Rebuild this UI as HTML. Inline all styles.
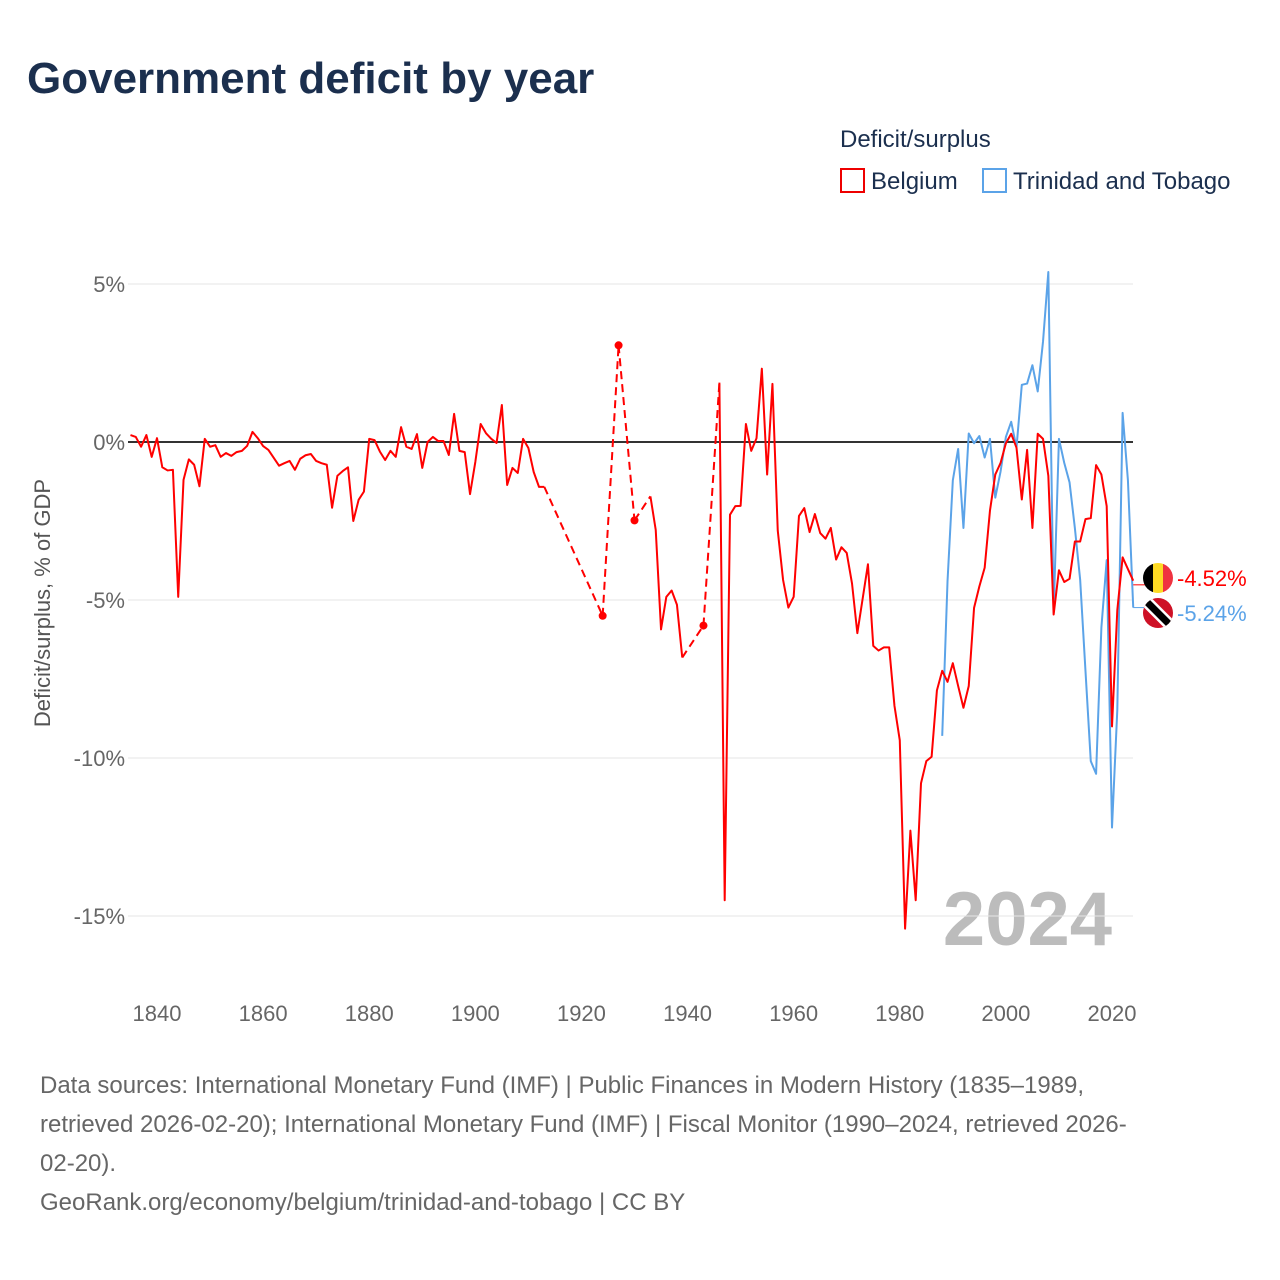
<!DOCTYPE html>
<html><head><meta charset="utf-8">
<style>
body{margin:0;background:#fff;font-family:"Liberation Sans",sans-serif;}
#wrap{position:relative;width:1280px;height:1280px;overflow:hidden;}
</style></head>
<body><div id="wrap">
<svg id="chart" width="1280" height="1280" xmlns="http://www.w3.org/2000/svg">
<text x="27" y="93" font-size="44" font-weight="bold" fill="#1b2f4e">Government deficit by year</text>
<text x="840" y="147" font-size="24" fill="#1b2f4e">Deficit/surplus</text>
<g><rect x="841" y="169" width="23" height="23" fill="#fff" stroke="#e00" stroke-width="2"/><text x="871" y="189" font-size="24" fill="#1b2f4e">Belgium</text></g>
<g><rect x="983" y="169" width="23" height="23" fill="#fff" stroke="#5ba3e8" stroke-width="2"/><text x="1013" y="189" font-size="24" fill="#1b2f4e">Trinidad and Tobago</text></g>
<text transform="translate(50,603) rotate(-90)" text-anchor="middle" font-size="22" fill="#555">Deficit/surplus, % of GDP</text>
<text x="1112" y="945" text-anchor="end" font-size="76" font-weight="bold" fill="#bcbcbc">2024</text>
<g id="grid"></g><g id="series"></g><g id="labels"></g>
<g font-size="24" fill="#666">
<text x="40" y="1093">Data sources: International Monetary Fund (IMF) | Public Finances in Modern History (1835–1989,</text>
<text x="40" y="1132">retrieved 2026-02-20); International Monetary Fund (IMF) | Fiscal Monitor (1990–2024, retrieved 2026-</text>
<text x="40" y="1171">02-20).</text>
<text x="40" y="1210">GeoRank.org/economy/belgium/trinidad-and-tobago | CC BY</text>
</g>
</svg></div>
<script>
const belgiumYears = [];
for (let y = 1835; y <= 2024; y++) belgiumYears.push(y);
const belgiumValues = [0.22,0.16,-0.15,0.22,-0.47,0.12,-0.8,-0.9,-0.88,-4.9,-1.2,-0.55,-0.72,-1.4,0.1,-0.15,-0.1,-0.47,-0.35,-0.44,-0.32,-0.28,-0.12,0.32,0.12,-0.13,-0.25,-0.5,-0.75,-0.67,-0.6,-0.88,-0.53,-0.42,-0.38,-0.6,-0.67,-0.72,-2.08,-1.07,-0.92,-0.8,-2.5,-1.83,-1.57,0.1,0.06,-0.3,-0.57,-0.28,-0.47,0.47,-0.15,-0.22,0.25,-0.82,0,0.16,0.03,0.03,-0.41,0.89,-0.28,-0.32,-1.65,-0.63,0.57,0.28,0.1,-0.03,1.17,-1.36,-0.82,-0.98,0.1,-0.19,-0.95,-1.42,-1.42,
null,null,null,null,null,null,null,null,null,null,-5.5,null,null,3.06,null,null,-2.48,null,null,-1.72,-2.78,-5.93,-4.9,-4.7,-5.15,-6.82,null,null,null,-5.81,null,null,1.88,-14.5,-2.3,-2.03,-2.02,0.57,-0.28,0.12,2.32,-1.03,1.84,-2.8,-4.36,-5.24,-4.9,-2.34,-2.09,-2.85,-2.28,-2.88,-3.06,-2.72,-3.72,-3.33,-3.51,-4.48,-6.05,-4.96,-3.87,-6.45,-6.6,-6.5,-6.5,-8.35,-9.44,-15.4,-12.3,-14.5,-10.8,-10.1,-9.96,-7.86,-7.24,-7.59,-7.0,-7.72,-8.41,-7.72,-5.25,-4.57,-3.98,-2.17,-1.03,-0.66,-0.04,0.26,-0.18,-1.82,-0.25,-2.72,0.26,0.1,-1.07,-5.46,-4.06,-4.43,-4.33,-3.15,-3.15,-2.44,-2.41,-0.73,-1.03,-2.03,-9.0,-5.32,-3.65,-4.02,-4.39,-4.52];
const ttYears = [];
for (let y = 1988; y <= 2024; y++) ttYears.push(y);
const ttValues = [-9.3,-4.4,-1.21,-0.22,-2.72,0.27,-0.04,0.19,-0.49,0.1,-1.76,-0.93,0.16,0.64,-0.18,1.81,1.85,2.43,1.6,3.18,5.38,-5.39,0.1,-0.66,-1.28,-2.72,-4.36,-7.24,-10.1,-10.5,-5.87,-3.74,-12.2,-8.48,0.92,-1.21,-5.24];
const yTicks = [5,0,-5,-10,-15];
const xTicks = [1840,1860,1880,1900,1920,1940,1960,1980,2000,2020];

const NS="http://www.w3.org/2000/svg";
const xs = yr => 157 + (yr-1840)*(955/180);
const ys = v => 442 - v*31.6;
function mk(tag, attrs, parent){const e=document.createElementNS(NS,tag);for(const k in attrs)e.setAttribute(k,attrs[k]);parent.appendChild(e);return e;}
const grid=document.getElementById('grid'), series=document.getElementById('series'), labels=document.getElementById('labels');

yTicks.forEach(t=>{
  const l=mk('line',{x1:128,x2:1133,y1:ys(t),y2:ys(t),stroke:t===0?'#333':'#e6e6e6','stroke-width':t===0?2:1},grid);
  
  
  const tx=mk('text',{x:125,y:ys(t)+8,'text-anchor':'end','font-size':22,fill:'#666'},grid);
  tx.textContent=t+'%';
  
  
});
xTicks.forEach(t=>{
  const tx=mk('text',{x:xs(t),y:1021,'text-anchor':'middle','font-size':22,fill:'#666'},grid);
  tx.textContent=t;
  
  
});

function drawSeries(years, vals, color, name){
  const g=mk('g',{},series);
  
  
  let seg=[], prev=null;
  const segs=[];
  years.forEach((yr,i)=>{
    const v=vals[i];
    if(v===null||v===undefined){ if(seg.length){segs.push(seg);seg=[];} return; }
    const p=[xs(yr),ys(v)];
    if(!seg.length && prev){
      const d=mk('line',{x1:prev[0],y1:prev[1],x2:p[0],y2:p[1],stroke:color,'stroke-width':2,'stroke-dasharray':'8,5'},g);
      
      
    }
    seg.push(p); prev=p;
  });
  if(seg.length) segs.push(seg);
  segs.forEach(s=>{
    if(s.length===1){
      const c=mk('circle',{cx:s[0][0],cy:s[0][1],r:4,fill:color},g);
      
      
    } else {
      const pl=mk('polyline',{points:s.map(p=>p.join(',')).join(' '),fill:'none',stroke:color,'stroke-width':2,'stroke-linejoin':'round'},g);
      
      
    }
  });
}
drawSeries(ttYears, ttValues, '#5ba3e8', 'trinidad');
drawSeries(belgiumYears, belgiumValues, '#ff0000', 'belgium');

const bLast=belgiumValues[belgiumValues.length-1], tLast=ttValues[ttValues.length-1];
const bl=mk('line',{x1:xs(2024),y1:ys(bLast),x2:1145,y2:ys(bLast),stroke:'#f00','stroke-width':1},labels);


const tl=mk('line',{x1:xs(2024),y1:ys(tLast),x2:1145,y2:ys(tLast),stroke:'#5ba3e8','stroke-width':1},labels);


</script>
<svg width="1280" height="1280" style="position:absolute;left:0;top:0" xmlns="http://www.w3.org/2000/svg">
<defs><clipPath id="cb2"><circle cx="1158" cy="578" r="15"/></clipPath><clipPath id="ct2"><circle cx="1158" cy="613" r="15"/></clipPath></defs>
<g clip-path="url(#ct2)">
<rect x="1143" y="598" width="30" height="30" fill="#ce1126"/>
<line x1="1146" y1="601" x2="1170" y2="625" stroke="#fff" stroke-width="12"/>
<line x1="1146" y1="601" x2="1170" y2="625" stroke="#000" stroke-width="7"/>
</g>
<g clip-path="url(#cb2)">
<rect x="1143" y="563" width="10" height="30" fill="#000"/>
<rect x="1153" y="563" width="10" height="30" fill="#fdda24"/>
<rect x="1163" y="563" width="10" height="30" fill="#ef3340"/>
</g>
<text x="1177" y="586" font-size="22" fill="#f00" font-family="Liberation Sans, sans-serif">-4.52%</text>
<text x="1177" y="621" font-size="22" fill="#5ba3e8" font-family="Liberation Sans, sans-serif">-5.24%</text>
</svg>
</body></html>
